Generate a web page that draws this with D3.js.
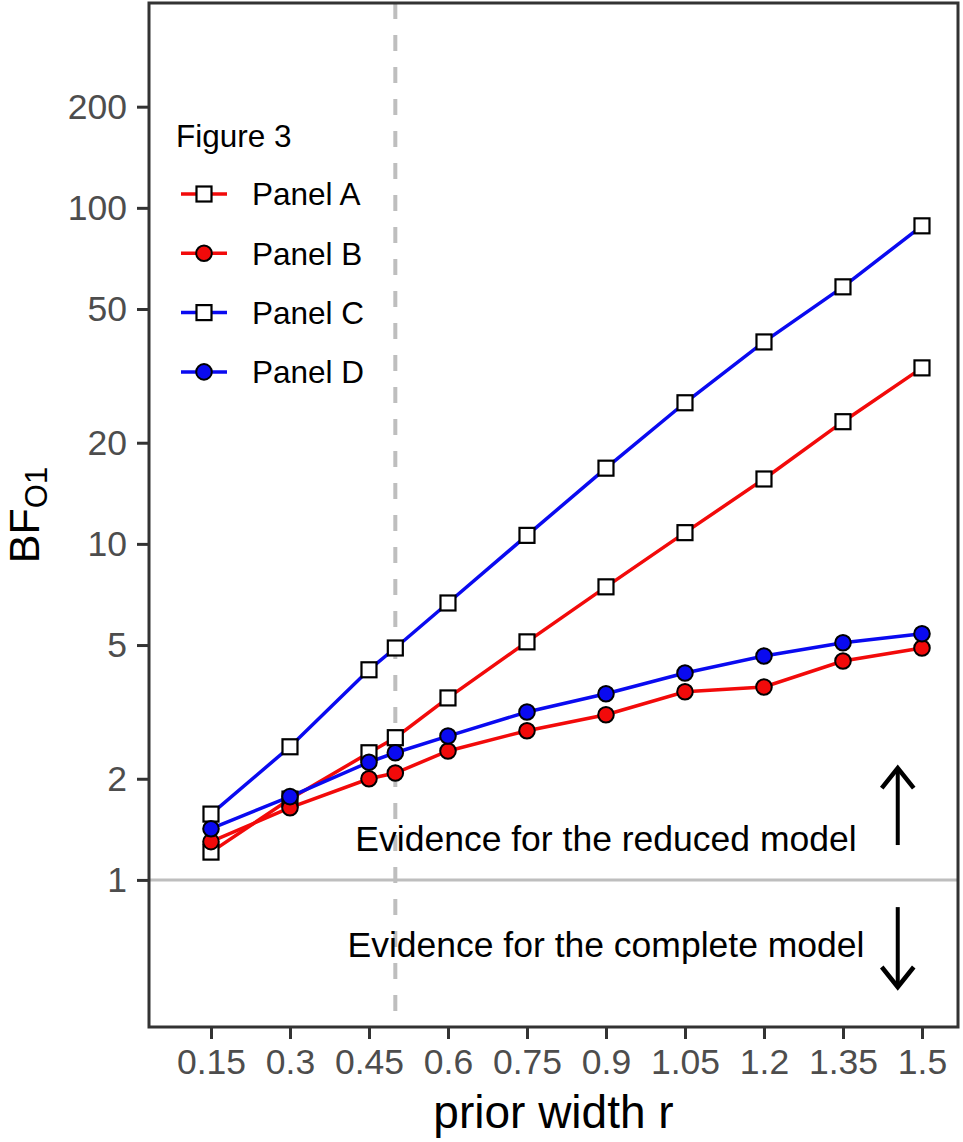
<!DOCTYPE html>
<html>
<head>
<meta charset="utf-8">
<script src="https://cdn.jsdelivr.net/npm/d3@7"></script>
<style>
  body { margin: 0; background: #fff; }
  text { font-family: "Liberation Sans", Arial, sans-serif; }
</style>
</head>
<body>
<svg id="chart"></svg>
<script>
// prior widths r
var priorWidth = [0.15, 0.3, 0.45, 0.5, 0.6, 0.75, 0.9, 1.05, 1.2, 1.35, 1.5];

var panelA = [1.21, 1.74, 2.39, 2.65, 3.48, 5.11, 7.45, 10.8, 15.6, 23.1, 33.4];
var panelB = [1.30, 1.64, 2.00, 2.08, 2.42, 2.78, 3.10, 3.63, 3.75, 4.48, 4.90];
var panelC = [1.57, 2.49, 4.22, 4.90, 6.67, 10.6, 16.8, 26.3, 39.9, 58.2, 88.4];
var panelD = [1.42, 1.77, 2.24, 2.39, 2.68, 3.16, 3.58, 4.13, 4.64, 5.08, 5.40];

var seriesNames = ["Panel A", "Panel B", "Panel C", "Panel D"];
var xTicks = [0.15, 0.3, 0.45, 0.6, 0.75, 0.9, 1.05, 1.2, 1.35, 1.5];
var xTickLabels = ["0.15", "0.3", "0.45", "0.6", "0.75", "0.9", "1.05", "1.2", "1.35", "1.5"];
var yTicks = [1, 2, 5, 10, 20, 50, 100, 200];

var series = [
  {name: seriesNames[0], values: panelA, color: "#f20a0a", shape: "square"},
  {name: seriesNames[1], values: panelB, color: "#f20a0a", shape: "circle"},
  {name: seriesNames[2], values: panelC, color: "#0a0af0", shape: "square"},
  {name: seriesNames[3], values: panelD, color: "#0a0af0", shape: "circle"}
];

var width = 963, height = 1142;
var pLeft = 149, pRight = 958, pTop = 3, pBottom = 1027;

var svg = d3.select("#chart")
  .attr("width", width)
  .attr("height", height);

svg.append("rect").attr("width", width).attr("height", height).attr("fill", "#fff");

var x = d3.scaleLinear().domain([0.0323, 1.5684]).range([pLeft, pRight]);
var y = d3.scaleLog().domain([0.365, 407]).range([pBottom, pTop]);

// reference lines
svg.append("line")
  .attr("x1", pLeft).attr("x2", pRight)
  .attr("y1", y(1)).attr("y2", y(1))
  .attr("stroke", "#bebebe").attr("stroke-width", 3);

svg.append("line")
  .attr("x1", x(0.5)).attr("x2", x(0.5))
  .attr("y1", pTop).attr("y2", pBottom)
  .attr("stroke", "#bebebe").attr("stroke-width", 4)
  .attr("stroke-dasharray", "16,16");

// annotations
svg.append("text")
  .attr("x", x(0.9)).attr("y", y(1.33))
  .attr("dy", "0.36em")
  .attr("text-anchor", "middle")
  .attr("font-size", 35.5)
  .text("Evidence for the reduced model");

svg.append("text")
  .attr("x", x(0.9)).attr("y", y(0.645))
  .attr("dy", "0.36em")
  .attr("text-anchor", "middle")
  .attr("font-size", 35.5)
  .text("Evidence for the complete model");

function arrow(x0, y0, y1) {
  var ax = x(x0), ya = y(y0), yb = y(y1);
  var dir = yb < ya ? 1 : -1;
  svg.append("line")
    .attr("x1", ax).attr("x2", ax).attr("y1", ya).attr("y2", yb)
    .attr("stroke", "#000").attr("stroke-width", 4);
  svg.append("path")
    .attr("d", "M" + (ax - 16) + "," + (yb + dir * 20) + "L" + ax + "," + yb + "L" + (ax + 16) + "," + (yb + dir * 20))
    .attr("fill", "none").attr("stroke", "#000").attr("stroke-width", 4.5)
    .attr("stroke-linejoin", "miter");
}
arrow(1.454, 1.27, 2.15);
arrow(1.454, 0.83, 0.48);

// lines
var line = d3.line()
  .x(function(d, i) { return x(priorWidth[i]); })
  .y(function(d) { return y(d); });

series.forEach(function(s) {
  svg.append("path")
    .attr("d", line(s.values))
    .attr("fill", "none")
    .attr("stroke", s.color)
    .attr("stroke-width", 3.5);
});

function drawPoint(g, s, cx, cy) {
  if (s.shape === "square") {
    g.append("rect")
      .attr("x", cx - 7.5).attr("y", cy - 7.5)
      .attr("width", 15).attr("height", 15)
      .attr("fill", "#fff").attr("stroke", "#000").attr("stroke-width", 2.2);
  } else {
    g.append("circle")
      .attr("cx", cx).attr("cy", cy).attr("r", 7.8)
      .attr("fill", s.color).attr("stroke", "#000").attr("stroke-width", 2);
  }
}

series.forEach(function(s) {
  var g = svg.append("g");
  s.values.forEach(function(v, i) {
    drawPoint(g, s, x(priorWidth[i]), y(v));
  });
});

// panel border
svg.append("rect")
  .attr("x", pLeft).attr("y", pTop)
  .attr("width", pRight - pLeft).attr("height", pBottom - pTop)
  .attr("fill", "none").attr("stroke", "#333").attr("stroke-width", 3);

// axes
var xAxis = d3.axisBottom(x)
  .tickValues(xTicks)
  .tickFormat(function(d, i) { return xTickLabels[i]; })
  .tickSize(12).tickPadding(10);

var gx = svg.append("g")
  .attr("transform", "translate(0," + pBottom + ")")
  .call(xAxis);

var yAxis = d3.axisLeft(y)
  .tickValues(yTicks)
  .tickFormat(function(d) { return String(d); })
  .tickSize(12).tickPadding(10);

var gy = svg.append("g")
  .attr("transform", "translate(" + pLeft + ",0)")
  .call(yAxis);

[gx, gy].forEach(function(g) {
  g.select(".domain").remove();
  g.selectAll(".tick line").attr("stroke", "#333").attr("stroke-width", 3);
  g.selectAll(".tick text")
    .attr("fill", "#4d4d4d")
    .attr("font-size", 35.5)
    .attr("font-family", "'Liberation Sans', Arial, sans-serif");
});

// axis titles
svg.append("text")
  .attr("x", (pLeft + pRight) / 2).attr("y", 1128)
  .attr("text-anchor", "middle")
  .attr("font-size", 46)
  .text("prior width r");

var yl = svg.append("text")
  .attr("transform", "translate(39," + ((pTop + pBottom) / 2) + ") rotate(-90)")
  .attr("text-anchor", "middle")
  .attr("font-size", 43);
yl.append("tspan").text("BF");
yl.append("tspan").attr("font-size", 31).attr("dy", 8).text("O1");

// legend
var legend = svg.append("g");
legend.append("text")
  .attr("x", 176).attr("y", 147)
  .attr("font-size", 31.5)
  .text("Figure 3");

series.forEach(function(s, i) {
  var ly = 194 + i * 59.3;
  legend.append("line")
    .attr("x1", 181).attr("x2", 227).attr("y1", ly).attr("y2", ly)
    .attr("stroke", s.color).attr("stroke-width", 3.5);
  drawPoint(legend, s, 204, ly);
  legend.append("text")
    .attr("x", 252).attr("y", ly)
    .attr("dy", "0.36em")
    .attr("font-size", 31.5)
    .text(s.name);
});
</script>
</body>
</html>
